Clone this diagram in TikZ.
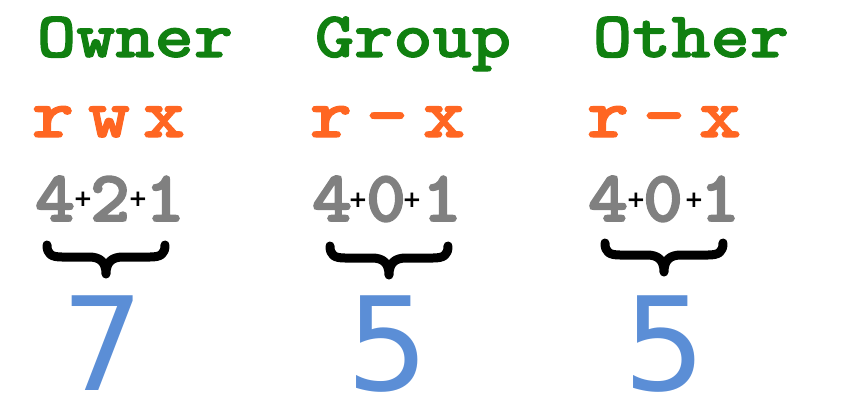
\documentclass[tikz,border=0pt]{standalone}
\usepackage{fontspec}
\usepackage{graphicx}
\newfontfamily\courfont{lmmonolt10-bold.otf}[FakeBold=1.6, FakeStretch=1.15]
\newfontfamily\digfont{lmmonolt10-bold.otf}[FakeBold=2.6, FakeStretch=1.05]
\newfontfamily\plusfont{DejaVu Sans Bold}
\newfontfamily\bigfont{DejaVu Sans}
\definecolor{titlegreen}{RGB}{16,128,16}
\definecolor{permorange}{RGB}{255,102,34}
\definecolor{numgray}{RGB}{128,128,128}
\definecolor{sumblue}{RGB}{91,142,214}
\tikzset{
  title/.style={inner sep=0pt, anchor=base, text=titlegreen, font=\courfont\fontsize{65}{65}\selectfont},
  perm/.style={inner sep=0pt, anchor=base, text=permorange, font=\courfont\fontsize{70}{70}\selectfont},
  bit/.style={inner sep=0pt, anchor=base, text=numgray, font=\digfont\fontsize{72}{72}\selectfont},
  plus/.style={inner sep=0pt, anchor=center, text=black, font=\plusfont\fontsize{23}{23}\selectfont},
  total/.style={inner sep=0pt, anchor=base, text=sumblue, font=\bigfont\fontsize{130}{130}\selectfont},
  bracestyle/.style={line width=9pt, line cap=round, line join=round, black},
  mybrace/.pic={
    \draw[bracestyle] (-59,0) .. controls (-59,9) and (-55,12) .. (-44,12) -- (-17,12)
      .. controls (-6,12) and (0,17) .. (0,29)
      .. controls (0,17) and (6,12) .. (17,12) -- (44,12)
      .. controls (55,12) and (59,9) .. (59,0);
  }
}
\begin{document}
\begin{tikzpicture}[x=1pt,y=-1pt]
\useasboundingbox (0,0) rectangle (844,410);
% titles
\node[title] (t1) at (135,57) {Owner};
\node[title] (t2) at (413,57) {Group};
\node[title] (t3) at (691,57) {Other};
% permissions
\node[perm] (p1r) at (53,137) {r};
\node[perm] (p1w) at (109,137) {w};
\node[perm] (p1x) at (164,137) {x};
\node[perm] (p2r) at (331,137) {r};
\node[perm] (p2w) at (387,137) {-};
\node[perm] (p2x) at (444,137) {x};
\node[perm] (p3r) at (608,137) {r};
\node[perm] (p3w) at (664,137) {-};
\node[perm] (p3x) at (720,137) {x};
% bits
\node[bit] (b1a) at (55,221) {4};
\node[plus] (s1a) at (83,199) {+};
\node[bit] (b1b) at (110,221) {2};
\node[plus] (s1b) at (138,199) {+};
\node[bit] (b1c) at (165,221) {1};
\node[bit] (b2a) at (332,221) {4};
\node[plus] (s2a) at (358,200) {+};
\node[bit] (b2b) at (386,221) {0};
\node[plus] (s2b) at (412,200) {+};
\node[bit] (b2c) at (442,221) {1};
\node[bit] (b3a) at (608,221) {4};
\node[plus] (s3a) at (636,200) {+};
\node[bit] (b3b) at (663,221) {0};
\node[plus] (s3b) at (694,200) {+};
\node[bit] (b3c) at (720,221) {1};
% braces
\pic (br1) at (106,245) {mybrace};
\pic (br2) at (389,246) {mybrace};
\pic (br3) at (664,243) {mybrace};
% totals
\node[total] (n1) at (103,390) {7};
\node[total] (n2) at (388,390) {5};
\node[total] (n3) at (665,390) {5};
\end{tikzpicture}
\end{document}
